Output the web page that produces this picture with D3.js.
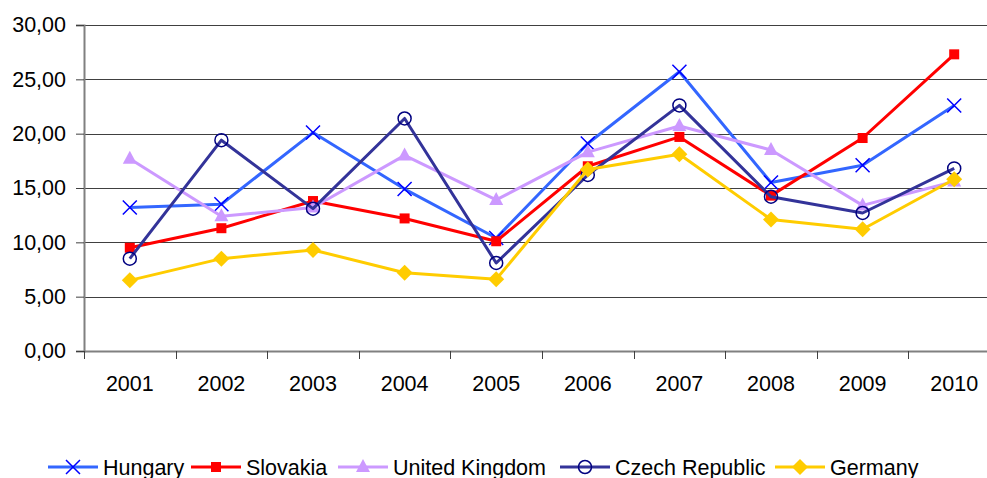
<!DOCTYPE html>
<html><head><meta charset="utf-8">
<script src="https://cdn.jsdelivr.net/npm/d3@7"></script>
<style>body{margin:0;background:#fff;}svg{display:block;font-family:"Liberation Sans",Arial,sans-serif;}</style>
</head><body><svg id="c" width="987" height="478"></svg>
<script>
const years = ["2001","2002","2003","2004","2005","2006","2007","2008","2009","2010"];
const yTicks = [0,5,10,15,20,25,30];
const hungary = [13.2,13.5,20.1,14.9,10.4,19.1,25.7,15.5,17.1,22.6];
const slovakia = [9.5,11.3,13.8,12.2,10.1,17.0,19.7,14.3,19.6,27.3];
const unitedKingdom = [17.7,12.4,13.2,18.0,13.9,18.3,20.7,18.5,13.4,15.6];
const czechRepublic = [8.5,19.4,13.1,21.4,8.1,16.2,22.6,14.2,12.7,16.8];
const germany = [6.5,8.5,9.3,7.2,6.6,16.7,18.1,12.1,11.2,15.8];
const seriesNames = ["Hungary","Slovakia","United Kingdom","Czech Republic","Germany"];

const series = [
  {name:seriesNames[0], values:hungary, line:"#3366FF", mk:"x", mc:"#0000FF"},
  {name:seriesNames[1], values:slovakia, line:"#FF0000", mk:"square", mc:"#FF0000"},
  {name:seriesNames[2], values:unitedKingdom, line:"#CC99FF", mk:"triangle", mc:"#CC99FF"},
  {name:seriesNames[3], values:czechRepublic, line:"#333399", mk:"circle", mc:"#000080"},
  {name:seriesNames[4], values:germany, line:"#FFCC00", mk:"diamond", mc:"#FFCC00"}
];

const svg = d3.select("#c");
const pLeft = 84, pRight = 1000, pTop = 25, pBottom = 351;
const x = d3.scaleBand().domain(years).range([pLeft, pRight]);
const y = d3.scaleLinear().domain([0,30]).range([pBottom, pTop]);
const FONT = "'Liberation Sans', Arial, sans-serif";

// gridlines
svg.append("g").selectAll("line").data(yTicks.filter(d=>d>0)).join("line")
  .attr("x1", pLeft).attr("x2", pRight)
  .attr("y1", d=>Math.round(y(d))+0.5).attr("y2", d=>Math.round(y(d))+0.5)
  .attr("stroke", "#404040").attr("stroke-width", 1);

// y axis
const yAxis = d3.axisLeft(y).tickValues(yTicks).tickSize(8).tickPadding(10)
  .tickFormat(d=>d3.format(".2f")(d).replace(".", ","));
const gy = svg.append("g").attr("transform", `translate(${pLeft},0)`).call(yAxis);
gy.select(".domain").attr("stroke", "#808080").attr("stroke-width", 2);
gy.selectAll(".tick line").attr("stroke", "#404040");
gy.selectAll(".tick text").attr("font-size", 21.5).attr("fill", "#000").attr("font-family", FONT);

// x axis
const xAxis = d3.axisBottom(x).tickSize(0).tickPadding(25);
const gx = svg.append("g").attr("transform", `translate(0,${pBottom})`).call(xAxis);
gx.select(".domain").attr("stroke", "#808080").attr("stroke-width", 2);
gx.selectAll(".tick text").attr("font-size", 21.5).attr("fill", "#000").attr("font-family", FONT);
// boundary ticks
svg.append("g").selectAll("line").data(years.concat(["end"])).join("line")
  .attr("x1", (d,i)=>Math.round(pLeft + i*x.bandwidth())+0.5)
  .attr("x2", (d,i)=>Math.round(pLeft + i*x.bandwidth())+0.5)
  .attr("y1", pBottom).attr("y2", pBottom+8)
  .attr("stroke", "#404040").attr("stroke-width", 1);

const cx = d => x(d) + x.bandwidth()/2;

function drawMarker(g, type, color, px, py) {
  if (type === "x") {
    const s = 7;
    g.append("path").attr("d", `M${px-s},${py-s}L${px+s},${py+s}M${px-s},${py+s}L${px+s},${py-s}`)
      .attr("stroke", color).attr("stroke-width", 1.5).attr("fill", "none");
  } else if (type === "square") {
    g.append("rect").attr("x", px-5).attr("y", py-5).attr("width", 10).attr("height", 10).attr("fill", color);
  } else if (type === "triangle") {
    g.append("path").attr("d", `M${px},${py-8}L${px+7},${py+5}L${px-7},${py+5}Z`).attr("fill", color);
  } else if (type === "circle") {
    g.append("circle").attr("cx", px).attr("cy", py).attr("r", 6.5)
      .attr("fill", "none").attr("stroke", color).attr("stroke-width", 1.5);
  } else if (type === "diamond") {
    g.append("path").attr("d", `M${px},${py-8}L${px+8},${py}L${px},${py+8}L${px-8},${py}Z`).attr("fill", color);
  }
}

const line = d3.line().x((d,i)=>cx(years[i])).y(d=>y(d));
series.forEach(s => {
  const g = svg.append("g");
  g.append("path").datum(s.values).attr("d", line)
    .attr("fill", "none").attr("stroke", s.line).attr("stroke-width", 3).attr("stroke-linejoin", "round");
  s.values.forEach((v,i) => drawMarker(g, s.mk, s.mc, cx(years[i]), y(v)));
});

// legend
const legendX = [48, 191, 338, 560, 775];
const ly = 467;
series.forEach((s,i) => {
  const g = svg.append("g");
  const x0 = legendX[i];
  g.append("line").attr("x1", x0).attr("x2", x0+50).attr("y1", ly).attr("y2", ly)
    .attr("stroke", s.line).attr("stroke-width", 3);
  drawMarker(g, s.mk, s.mc, x0+25, ly);
  g.append("text").attr("x", x0+55).attr("y", ly+7.5).attr("font-size", 21.5).attr("fill", "#000")
    .attr("font-family", FONT).text(s.name);
});
</script></body></html>
